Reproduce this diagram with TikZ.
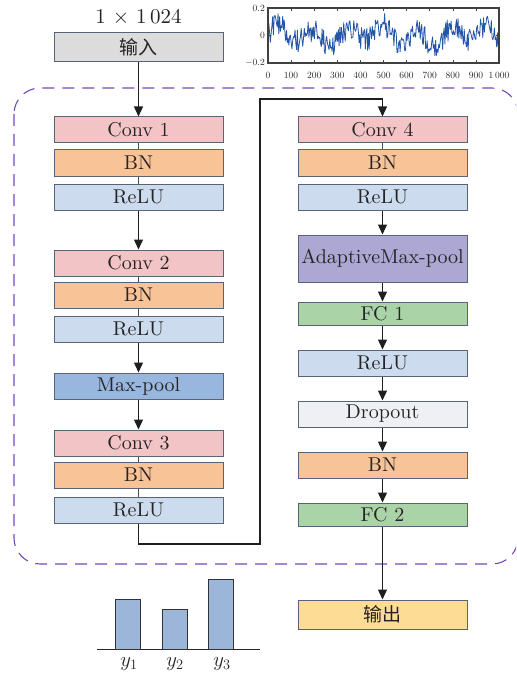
\documentclass[tikz,border=0pt]{standalone}
\usepackage{fontspec}
\setmainfont{lmroman10-regular.otf}[ItalicFont=lmroman10-italic.otf]
\newfontfamily\cjk{Noto Sans CJK SC}
\usetikzlibrary{arrows.meta}
\definecolor{bordc}{HTML}{5A6275}
\definecolor{convc}{HTML}{F2C4C6}
\definecolor{bnc}{HTML}{F9C398}
\definecolor{reluc}{HTML}{CCDCEE}
\definecolor{poolc}{HTML}{98B6DE}
\definecolor{apoolc}{HTML}{ACA7D3}
\definecolor{fcc}{HTML}{AAD3A7}
\definecolor{dropc}{HTML}{EFF0F3}
\definecolor{inc}{HTML}{DCDCDC}
\definecolor{outc}{HTML}{FDDC95}
\definecolor{dashc}{HTML}{7448B4}
\definecolor{sigc}{HTML}{2455A8}
\definecolor{barc}{HTML}{9BB6D9}
\definecolor{txtc}{HTML}{242424}
\tikzset{
  blk/.style={draw=bordc, line width=1pt, minimum width=169pt, minimum height=26pt,
    inner sep=0pt, text=txtc, font=\fontsize{20}{21}\selectfont},
  cjkblk/.style={blk, font=\cjk\fontsize{19}{20}\selectfont},
  arr/.style={draw=black!88, line width=1.3pt, -{Triangle[length=10pt,width=9pt]}},
  thin/.style={draw=black!70, line width=0.8pt},
  tick/.style={font=\fontsize{9.5}{10}\selectfont, text=black!85, inner sep=1pt},
  axis/.style={black!75, line width=0.6pt},
  ylab/.style={font=\fontsize{20}{21}\selectfont, text=txtc, inner sep=0pt}
}
\begin{document}
\begin{tikzpicture}[x=1pt,y=-1pt]
\useasboundingbox (0,0) rectangle (516,679);
% dashed frame
\begin{scope}
\clip (0,0) rectangle (516,679);
\draw[dashc, line width=1.1pt, dash pattern=on 12pt off 8pt, rounded corners=26pt]
  (14,88) rectangle (518,564);
\end{scope}
% input
\node[font=\fontsize{21}{22}\selectfont, text=txtc, inner sep=0pt] (dim) at (138.5,17) {1 × 1\,024};
\node[cjkblk, fill=inc, minimum height=29pt] (in) at (138.5,47.5) {输入};
% left column
\node[blk, fill=convc] (c1) at (138.5,130) {Conv 1};
\node[blk, fill=bnc]   (b1) at (138.5,163) {BN};
\node[blk, fill=reluc] (r1) at (138.5,197) {ReLU};
\node[blk, fill=convc] (c2) at (138.5,263) {Conv 2};
\node[blk, fill=bnc]   (b2) at (138.5,295) {BN};
\node[blk, fill=reluc] (r2) at (138.5,329) {ReLU};
\node[blk, fill=poolc] (mp) at (138.5,386) {Max-pool};
\node[blk, fill=convc] (c3) at (138.5,443) {Conv 3};
\node[blk, fill=bnc]   (b3) at (138.5,475) {BN};
\node[blk, fill=reluc] (r3) at (138.5,510) {ReLU};
% right column
\node[blk, fill=convc] (c4) at (382.5,130) {Conv 4};
\node[blk, fill=bnc]   (b4) at (382.5,163) {BN};
\node[blk, fill=reluc] (r4) at (382.5,197) {ReLU};
\node[blk, fill=apoolc, minimum height=47pt] (ap) at (382.5,258.5) {AdaptiveMax-pool};
\node[blk, fill=fcc, minimum height=23pt] (f1) at (382.5,313.5) {FC 1};
\node[blk, fill=reluc] (r5) at (382.5,363) {ReLU};
\node[blk, fill=dropc] (dr) at (382.5,414) {Dropout};
\node[blk, fill=bnc]   (b5) at (382.5,465) {BN};
\node[blk, fill=fcc, minimum height=23pt] (f2) at (382.5,514.5) {FC 2};
\node[cjkblk, fill=outc, minimum height=29pt] (out) at (382.5,614.5) {输出};
% connectors
\draw[arr] (in) -- (c1);
\draw[thin] (c1) -- (b1);
\draw[thin] (b1) -- (r1);
\draw[arr] (r1) -- (c2);
\draw[thin] (c2) -- (b2);
\draw[thin] (b2) -- (r2);
\draw[arr] (r2) -- (mp);
\draw[arr] (mp) -- (c3);
\draw[thin] (c3) -- (b3);
\draw[thin] (b3) -- (r3);
\coordinate (k1) at (260,544);
\coordinate (k2) at (260,99);
\draw[arr] (r3.south) |- (k1) -- (k2) -| (c4.north);
\draw[thin] (c4) -- (b4);
\draw[arr] (r4) -- (ap);
\draw[arr] (ap) -- (f1);
\draw[arr] (f1) -- (r5);
\draw[arr] (r5) -- (dr);
\draw[arr] (dr) -- (b5);
\draw[arr] (b5) -- (f2);
\draw[arr] (f2) -- (out);
% signal plot
\pgfmathsetseed{12}
\begin{scope}
\clip (268,8) rectangle (499,63);
\draw[sigc, line width=0.8pt, line join=round]
  plot[domain=0:1000, samples=300, variable=\t]
  ({268+0.231*\t}, {35.5-137.5*(0.055*sin(\t*2.4-20)+0.03*sin(\t*0.85+50)+0.085*rand)});
\end{scope}
\draw[black!75, line width=1.3pt] (268,8) rectangle (499,63);
\foreach \i in {0,...,10}{
  \draw[axis] ({268+23.1*\i},63) -- ({268+23.1*\i},60);
  \draw[axis] ({268+23.1*\i},8) -- ({268+23.1*\i},11);
}
\foreach \yy in {8,35.5,63}{
  \draw[axis] (268,\yy) -- (271,\yy);
  \draw[axis] (499,\yy) -- (496,\yy);
}
\node[tick, anchor=east] (yl1) at (266,8) {0.2};
\node[tick, anchor=east] (yl2) at (266,35.5) {0};
\node[tick, anchor=east] (yl3) at (266,63) {$-$0.2};
\foreach \i/\lab in {0/0,1/100,2/200,3/300,4/400,5/500,6/600,7/700,8/800,9/900}{
  \node[tick] (xl\i) at ({268+23.1*\i},75) {\lab};
}
\node[tick] (xl10) at (499,75) {1\,000};
% bar chart
\draw[black!85, line width=1pt] (97,649) -- (260,649);
\draw[black!80, line width=1pt, fill=barc] (115,649) rectangle (140,599);
\draw[black!80, line width=1pt, fill=barc] (162,649) rectangle (187,609);
\draw[black!80, line width=1pt, fill=barc] (208,649) rectangle (233,579);
\node[ylab] (y1) at (129,664) {$y_1$};
\node[ylab] (y2) at (175,664) {$y_2$};
\node[ylab] (y3) at (222,664) {$y_3$};
\end{tikzpicture}
\end{document}
